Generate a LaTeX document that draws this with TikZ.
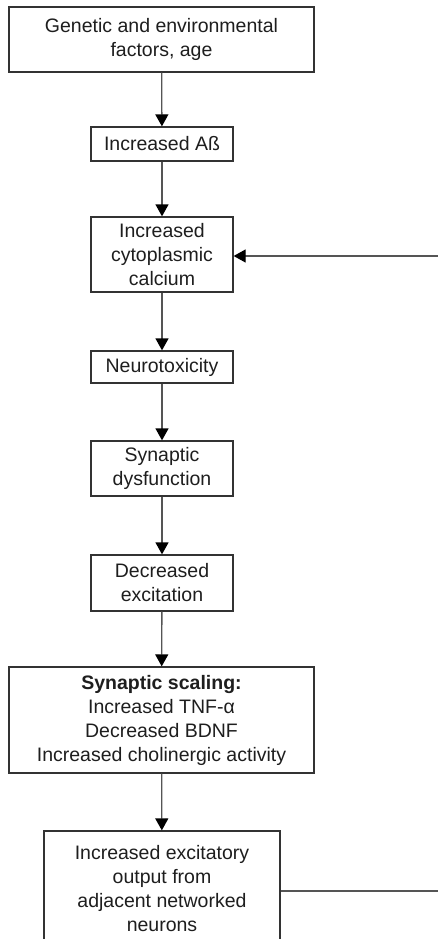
\documentclass[tikz,border=0pt]{standalone}
\usepackage{fontspec}
\setmainfont{Liberation Sans}
\usetikzlibrary{arrows.meta}
\definecolor{boxline}{HTML}{333333}
\definecolor{linkline}{HTML}{555555}
\definecolor{ink}{HTML}{1E1E1E}
\begin{document}
\begin{tikzpicture}[x=1pt,y=-1pt,
  flowbox/.style={draw=boxline, line width=1.3pt, rectangle, align=center,
    inner sep=0pt, text=ink,
    font=\fontsize{19.5pt}{24pt}\selectfont},
  link/.style={draw=linkline, line width=1.3pt,
    -{Triangle[width=13pt,length=12pt,color=black]}},
  plain/.style={draw=linkline, line width=1.3pt}]
\useasboundingbox (0,0) rectangle (438,939);
\clip (0,0) rectangle (438,939);
\fill[white] (0,0) rectangle (438,939);

\node[flowbox, minimum width=305pt, minimum height=65pt] (gen) at (161.5,39.5)
  {Genetic and environmental\\factors, age};
\node[flowbox, minimum width=142pt, minimum height=34pt] (abeta) at (162,144)
  {Increased Aß};
\node[flowbox, minimum width=142pt, minimum height=75pt] (calc) at (162,254.5)
  {Increased\\cytoplasmic\\calcium};
\node[flowbox, minimum width=142pt, minimum height=32pt] (tox) at (162,367)
  {Neurotoxicity};
\node[flowbox, minimum width=142pt, minimum height=55pt] (dys) at (162,468.5)
  {Synaptic\\dysfunction};
\node[flowbox, minimum width=142pt, minimum height=56pt] (exc) at (162,583)
  {Decreased\\excitation};
\node[flowbox, minimum width=305pt, minimum height=106pt] (scal) at (161.5,720)
  {\textbf{Synaptic scaling:}\\Increased TNF-α\\Decreased BDNF\\Increased cholinergic activity};
\node[flowbox, minimum width=236pt, minimum height=116pt] (out) at (162,889)
  {Increased excitatory\\output from\\adjacent networked\\neurons};

\draw[link] (gen) -- (abeta);
\draw[link] (abeta) -- (calc);
\draw[link] (calc) -- (tox);
\draw[link] (tox) -- (dys);
\draw[link] (dys) -- (exc);
\draw[link] (exc) -- (scal);
\draw[link] (scal) -- (out);

% feedback loop, running off the right edge
\coordinate (backin) at (440,256);
\coordinate (backout) at (440,891);
\draw[link] (backin) -- (backin -| calc.east);
\draw[plain] (backout -| out.east) -- (backout);
\end{tikzpicture}
\end{document}
